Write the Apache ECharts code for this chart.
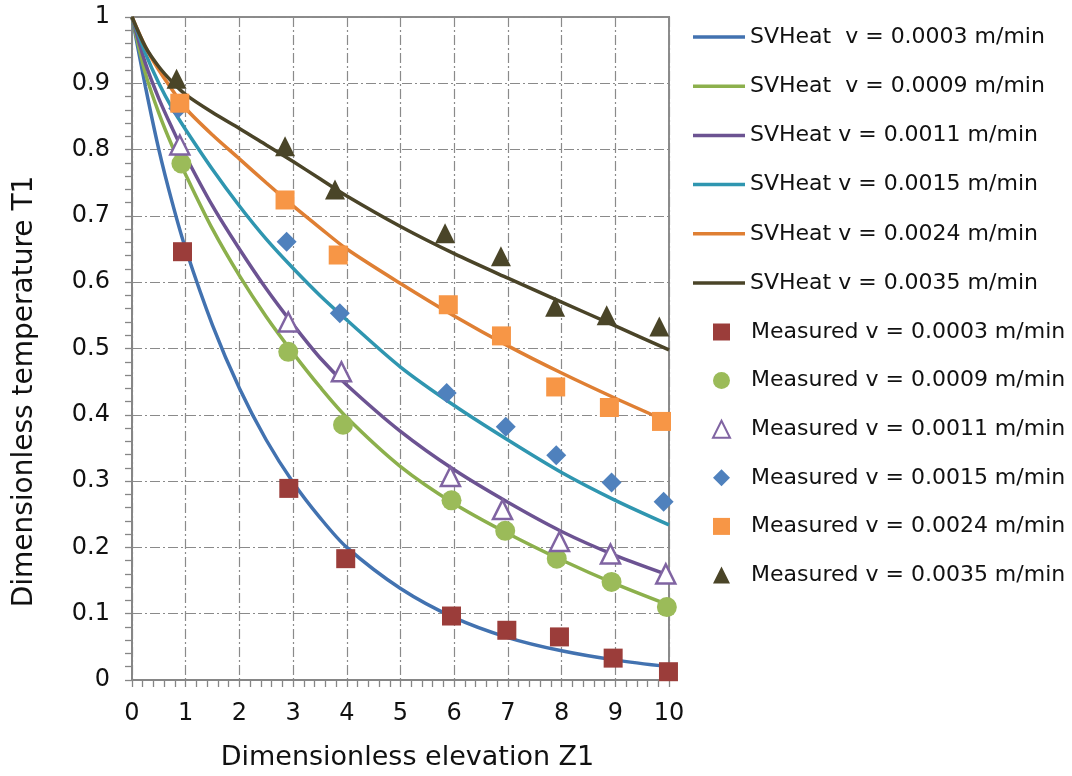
<!DOCTYPE html>
<html>
<head>
<meta charset="utf-8">
<script src="https://cdn.jsdelivr.net/npm/echarts@6/dist/echarts.min.js"></script>
<style>
html,body{margin:0;padding:0;background:#fff;}
#chart{width:1072px;height:776px;}
</style>
</head>
<body>
<div id="chart"></div>
<script>
// ---- data ----
var curveZ = [0, 0.25, 0.5, 0.75, 1, 1.5, 2, 2.5, 3, 3.5, 4, 5, 6, 7, 8, 9, 10];
var sv0003 = [1, 0.895, 0.80, 0.72, 0.65, 0.535, 0.44, 0.362, 0.298, 0.245, 0.2, 0.138, 0.094, 0.064, 0.044, 0.03, 0.02];
var sv0009 = [1, 0.915, 0.855, 0.805, 0.762, 0.68, 0.61, 0.548, 0.493, 0.442, 0.396, 0.322, 0.266, 0.221, 0.181, 0.145, 0.113];
var sv0011 = [1, 0.93, 0.877, 0.832, 0.79, 0.715, 0.65, 0.59, 0.536, 0.486, 0.445, 0.375, 0.317, 0.268, 0.224, 0.188, 0.158];
var sv0015 = [1, 0.945, 0.90, 0.862, 0.83, 0.77, 0.715, 0.665, 0.621, 0.58, 0.543, 0.472, 0.414, 0.362, 0.313, 0.271, 0.234];
var sv0024 = [1, 0.955, 0.92, 0.89, 0.862, 0.822, 0.786, 0.75, 0.715, 0.682, 0.65, 0.598, 0.549, 0.504, 0.463, 0.425, 0.389];
var sv0035 = [1, 0.955, 0.925, 0.902, 0.883, 0.856, 0.832, 0.807, 0.782, 0.756, 0.73, 0.684, 0.643, 0.606, 0.57, 0.534, 0.498];

var mz0003 = [0.94, 2.92, 3.98, 5.95, 6.98, 7.96, 8.96, 9.99];
var mt0003 = [0.646, 0.289, 0.183, 0.0965, 0.075, 0.065, 0.033, 0.0125];
var mz0009 = [0.92, 2.91, 3.93, 5.95, 6.95, 7.91, 8.93, 9.96];
var mt0009 = [0.779, 0.495, 0.385, 0.271, 0.225, 0.183, 0.148, 0.11];
var mz0011 = [0.89, 2.91, 3.9, 5.93, 6.9, 7.96, 8.91, 9.94];
var mt0011 = [0.807, 0.54, 0.465, 0.307, 0.257, 0.209, 0.19, 0.16];
var mz0015 = [0.86, 2.88, 3.87, 5.86, 6.96, 7.9, 8.93, 9.9];
var mt0015 = [0.862, 0.661, 0.553, 0.433, 0.382, 0.339, 0.298, 0.269];
var mz0024 = [0.89, 2.85, 3.84, 5.89, 6.88, 7.89, 8.89, 9.86];
var mt0024 = [0.870, 0.724, 0.641, 0.566, 0.519, 0.442, 0.411, 0.39];
var mz0035 = [0.83, 2.85, 3.78, 5.83, 6.87, 7.88, 8.84, 9.82];
var mt0035 = [0.907, 0.805, 0.74, 0.674, 0.639, 0.563, 0.55, 0.533];

var svNames = ['SVHeat  v = 0.0003 m/min', 'SVHeat  v = 0.0009 m/min', 'SVHeat v = 0.0011 m/min',
               'SVHeat v = 0.0015 m/min', 'SVHeat v = 0.0024 m/min', 'SVHeat v = 0.0035 m/min'];
var msNames = ['Measured v = 0.0003 m/min', 'Measured v = 0.0009 m/min', 'Measured v = 0.0011 m/min',
               'Measured v = 0.0015 m/min', 'Measured v = 0.0024 m/min', 'Measured v = 0.0035 m/min'];

// ---- styles ----
var FONT = 'DejaVu Sans';
var lineColors = ['#4272b0', '#8cb04c', '#6c5392', '#2f96b0', '#df7f33', '#4a4428'];
var svValues = [sv0003, sv0009, sv0011, sv0015, sv0024, sv0035];
var msZ = [mz0003, mz0009, mz0011, mz0015, mz0024, mz0035];
var msT = [mt0003, mt0009, mt0011, mt0015, mt0024, mt0035];
var msStyles = [
  {symbol: 'rect', size: 19, item: {color: '#9b3d3a', opacity: 1}},
  {symbol: 'circle', size: 20, item: {color: '#9bbb59', opacity: 1}},
  {symbol: 'triangle', size: 19, item: {color: '#ffffff', borderColor: '#8064a2', borderWidth: 2.5, opacity: 1}},
  {symbol: 'diamond', size: 20, item: {color: '#4f81bd', opacity: 1}},
  {symbol: 'rect', size: 19, item: {color: '#f79646', opacity: 1}},
  {symbol: 'triangle', size: 20, item: {color: '#4a4528', opacity: 1}}
];
var LINE_ICON = 'path://M0,0 L52,0 L52,3.5 L0,3.5 Z';

function pairs(xs, ys) { return xs.map(function (x, i) { return [x, ys[i]]; }); }

var series = [];
for (var i = 0; i < 6; i++) {
  series.push({
    name: svNames[i], type: 'line', data: pairs(curveZ, svValues[i]),
    smooth: 0.3, symbol: 'none', z: 2,
    lineStyle: {color: lineColors[i], width: 3.5},
    itemStyle: {color: lineColors[i]}
  });
}
for (var j = 0; j < 6; j++) {
  series.push({
    name: msNames[j], type: 'scatter', data: pairs(msZ[j], msT[j]),
    symbol: msStyles[j].symbol, symbolSize: msStyles[j].size, z: 3,
    itemStyle: msStyles[j].item
  });
}

var legendText = {fontFamily: FONT, fontSize: 22, color: '#111', lineHeight: 22};

var gridLine = {show: true, lineStyle: {color: '#8a8a8a', width: 1.2, type: [10, 3, 2, 3]}};
var axisCommon = {
  axisLine: {show: true, lineStyle: {color: '#868686', width: 2}},
  axisTick: {show: true, inside: false, length: 7, lineStyle: {color: '#868686', width: 1.3}},
  minorTick: {show: true, splitNumber: 5, length: 7, lineStyle: {color: '#868686', width: 1.3}},
  splitLine: gridLine
};

var chart = echarts.init(document.getElementById('chart'), null, {renderer: 'canvas'});
chart.setOption({
  backgroundColor: '#ffffff',
  animation: false,
  grid: {left: 132, right: 403, top: 17, bottom: 96, show: true, borderColor: '#8c8c8c', borderWidth: 2,
         backgroundColor: 'transparent', containLabel: false, outerBoundsMode: 'none'},
  legend: [{
    orient: 'vertical', left: 693, top: 26, padding: 0,
    itemWidth: 52, itemHeight: 17, itemGap: 27.2,
    textStyle: legendText,
    data: svNames.map(function (n) { return {name: n, icon: LINE_ICON}; })
  }, {
    orient: 'vertical', left: 712, top: 321, padding: 0,
    itemWidth: 17, itemHeight: 17, itemGap: 26.6,
    textStyle: Object.assign({padding: [0, 0, 0, 16]}, legendText),
    data: msNames
  }],
  xAxis: Object.assign({
    type: 'value', min: 0, max: 10, interval: 1,
    name: 'Dimensionless elevation Z1', nameLocation: 'middle', nameGap: 64,
    nameTextStyle: {fontFamily: FONT, fontSize: 27, color: '#111', padding: [0, 0, 0, 14]},
    axisLabel: {fontFamily: FONT, fontSize: 24, color: '#111', margin: 22}
  }, axisCommon),
  yAxis: Object.assign({
    type: 'value', min: 0, max: 1, interval: 0.1,
    name: 'Dimensionless temperature T1', nameLocation: 'middle', nameGap: 93,
    nameTextStyle: {fontFamily: FONT, fontSize: 28, color: '#111', padding: [0, 86, 0, 0]},
    axisLabel: {fontFamily: FONT, fontSize: 24, color: '#111', margin: 22,
      formatter: function (v) { return String(Math.round(v * 10) / 10); }}
  }, axisCommon),
  series: series
});
</script>
</body>
</html>
